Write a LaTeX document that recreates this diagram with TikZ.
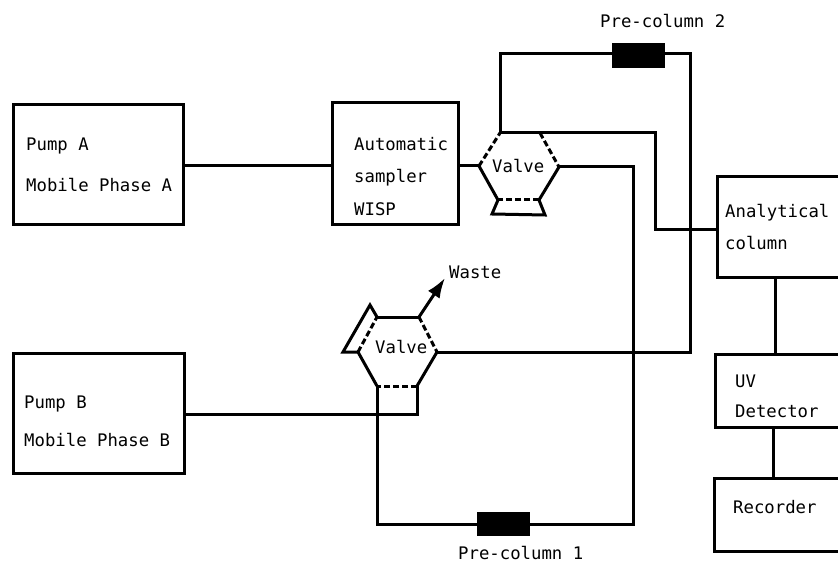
\documentclass[tikz,border=0pt]{standalone}
\usepackage{fontspec}
\newfontfamily\labfont{DejaVu Sans Mono}
\usetikzlibrary{arrows.meta}
\tikzset{
 x=1pt,y=-1pt,
 wire/.style={line width=3pt,line join=miter},
 boxnode/.style={draw,line width=3pt,inner sep=0pt,outer sep=0pt,anchor=north west},
 lab/.style={font=\labfont\fontsize{17.3}{19}\selectfont,anchor=base west,inner sep=0pt},
 column/.style={fill=black,draw=none,inner sep=0pt,outer sep=0pt,minimum width=53pt,minimum height=24.5pt},
 valveedge/.style={line width=3pt,dash pattern=on 6pt off 3pt},
}
\begin{document}
\begin{tikzpicture}
\useasboundingbox (0,0) rectangle (838,564);
\node[boxnode,minimum width=170pt,minimum height=120pt] (pumpa) at (13,105) {};
\node[boxnode,minimum width=171pt,minimum height=120pt] (pumpb) at (13,353) {};
\node[boxnode,minimum width=126pt,minimum height=122pt] (wisp) at (332,103) {};
\node[boxnode,minimum width=125pt,minimum height=100pt] (anal) at (717,177) {};
\node[boxnode,minimum width=125pt,minimum height=73pt] (uv) at (715,354) {};
\node[boxnode,minimum width=127pt,minimum height=73pt] (rec) at (714,478) {};
\node[column] (pc2) at (638,55.5) {};
\node[column] (pc1) at (503.5,524) {};
% top valve
\coordinate (a1) at (500,133); \coordinate (a2) at (540,133); \coordinate (a3) at (559,167);
\coordinate (a4) at (539,200); \coordinate (a5) at (498,200); \coordinate (a6) at (479,166);
\coordinate (a7) at (492,214); \coordinate (a8) at (545,215);
\draw[wire] (a1)--(a2); \draw[wire] (a3)--(a4); \draw[wire] (a5)--(a6);
\draw[valveedge] (a2)--(a3); \draw[valveedge] (a6)--(a1); \draw[valveedge] (a4)--(a5);
\draw[wire] (a5)--(a7)--(a8)--(a4);
% lower valve
\coordinate (b1) at (377,317); \coordinate (b2) at (419,317); \coordinate (b3) at (437,352);
\coordinate (b4) at (417,386); \coordinate (b5) at (377,386); \coordinate (b6) at (358,352);
\coordinate (b7) at (370,305); \coordinate (b8) at (343,352);
\coordinate (w) at (445,278); \coordinate (sq1) at (377,414); \coordinate (sq2) at (417,414);
\draw[wire] (b1)--(b2); \draw[wire] (b3)--(b4); \draw[wire] (b5)--(b6);
\draw[valveedge] (b2)--(b3); \draw[valveedge] (b6)--(b1); \draw[valveedge] (b4)--(b5);
\draw[wire] (b1)--(b7)--(b8)--(b6);
\draw[line width=3pt,-{Latex[length=20pt,width=14pt]}] (b2)--(w);
\draw[wire] (b5)--(sq1); \draw[wire] (b4)--(sq2)--(sq1);
% connectors
\draw[wire] (pumpa.east |- 0,166)--(wisp.west |- 0,166);
\draw[wire] (wisp.east |- 0,166)--(a6);
\draw[wire] (pumpb.east |- 0,414)--(sq1);
\draw[wire] (a1)--(500,54)--(pc2.west |- 0,54);
\draw[wire] (pc2.east |- 0,54)--(690,54)--(690,352)--(b3);
\draw[wire] (a2)--(655,133)--(655,230)--(anal.west |- 0,230);
\draw[wire] (a3)--(633,167)--(633,524)--(pc1.east |- 0,524);
\draw[wire] (pc1.west |- 0,524)--(377,524)--(sq1);
\draw[wire] (anal.south -| 775,0)--(uv.north -| 775,0);
\draw[wire] (uv.south -| 773,0)--(rec.north -| 773,0);
% labels
\node[lab] (t1) at (26,151) {Pump A};
\node[lab] (t2) at (26,192) {Mobile Phase A};
\node[lab] (t3) at (24,408) {Pump B};
\node[lab] (t4) at (24,446) {Mobile Phase B};
\node[lab] (t5) at (354,151) {Automatic};
\node[lab] (t6) at (354,183) {sampler};
\node[lab] (t7) at (354,215) {WISP};
\node[lab] (t8) at (492,173) {Valve};
\node[lab] (t9) at (375,353) {Valve};
\node[lab] (t10) at (449,278) {Waste};
\node[lab] (t11) at (600,28) {Pre-column 2};
\node[lab] (t12) at (458,559) {Pre-column 1};
\node[lab] (t13) at (725,218) {Analytical};
\node[lab] (t14) at (725,249) {column};
\node[lab] (t15) at (735,387) {UV};
\node[lab] (t16) at (735,417) {Detector};
\node[lab] (t17) at (733,513) {Recorder};
\end{tikzpicture}
\end{document}
